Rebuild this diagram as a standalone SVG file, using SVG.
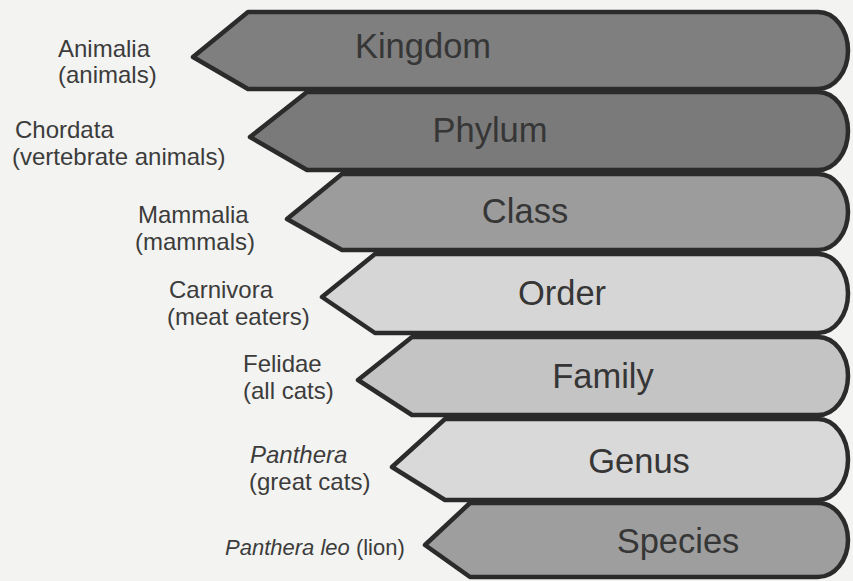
<svg xmlns="http://www.w3.org/2000/svg" width="853" height="581" viewBox="0 0 853 581">
  <style>
    .band { stroke: #2b2b2b; stroke-width: 4.5; stroke-linejoin: round; }
    .rank { font-family: "Liberation Sans", Arial, sans-serif; font-size: 34.5px; fill: #363636; text-anchor: middle; }
    .lbl { font-family: "Liberation Sans", Arial, sans-serif; font-size: 24px; fill: #3c3c3c; }
    .it { font-style: italic; }
  </style>
  <rect x="0" y="0" width="853" height="581" fill="#f3f3f1"/>
  <g id="connectors"/>
  <g id="kingdom">
    <path class="band" fill="#7f7f7f" d="M248,12 H818 A30,38.5 0 0 1 818,89 H248 L193,57 Z"/>
    <text class="rank" x="423" y="58">Kingdom</text>
    <text class="lbl" x="58" y="57">Animalia</text>
    <text class="lbl" x="58" y="83">(animals)</text>
  </g>
  <g id="phylum">
    <path class="band" fill="#7a7a7a" d="M307,92 H818 A30,39 0 0 1 818,170 H307 L250,137 Z"/>
    <text class="rank" x="490" y="142">Phylum</text>
    <text class="lbl" x="15" y="138">Chordata</text>
    <text class="lbl" x="12" y="165">(vertebrate animals)</text>
  </g>
  <g id="class">
    <path class="band" fill="#9c9c9c" d="M342,174 H818 A30,38 0 0 1 818,250 H342 L287,219 Z"/>
    <text class="rank" x="525" y="223">Class</text>
    <text class="lbl" x="138" y="223">Mammalia</text>
    <text class="lbl" x="135" y="250">(mammals)</text>
  </g>
  <g id="order">
    <path class="band" fill="#d6d6d6" d="M375,254 H818 A30,39.5 0 0 1 818,333 H375 L322,297 Z"/>
    <text class="rank" x="562" y="305">Order</text>
    <text class="lbl" x="169" y="298">Carnivora</text>
    <text class="lbl" x="167" y="325">(meat eaters)</text>
  </g>
  <g id="family">
    <path class="band" fill="#c4c4c4" d="M412,337 H818 A30,39 0 0 1 818,415 H412 L358,380 Z"/>
    <text class="rank" x="603" y="388">Family</text>
    <text class="lbl" x="243" y="372">Felidae</text>
    <text class="lbl" x="243" y="399">(all cats)</text>
  </g>
  <g id="genus">
    <path class="band" fill="#d9d9d9" d="M445,419 H818 A30,40.5 0 0 1 818,500 H445 L392,467 Z"/>
    <text class="rank" x="639" y="473">Genus</text>
    <text class="lbl it" x="250" y="463">Panthera</text>
    <text class="lbl" x="249" y="490">(great cats)</text>
  </g>
  <g id="species">
    <path class="band" fill="#9e9e9e" d="M470,503 H818 A30,37 0 0 1 818,577 H470 L425,545 Z"/>
    <text class="rank" x="678" y="553">Species</text>
    <text class="lbl" x="225" y="555" style="font-size:22px"><tspan class="it">Panthera leo</tspan> (lion)</text>
  </g>
</svg>
